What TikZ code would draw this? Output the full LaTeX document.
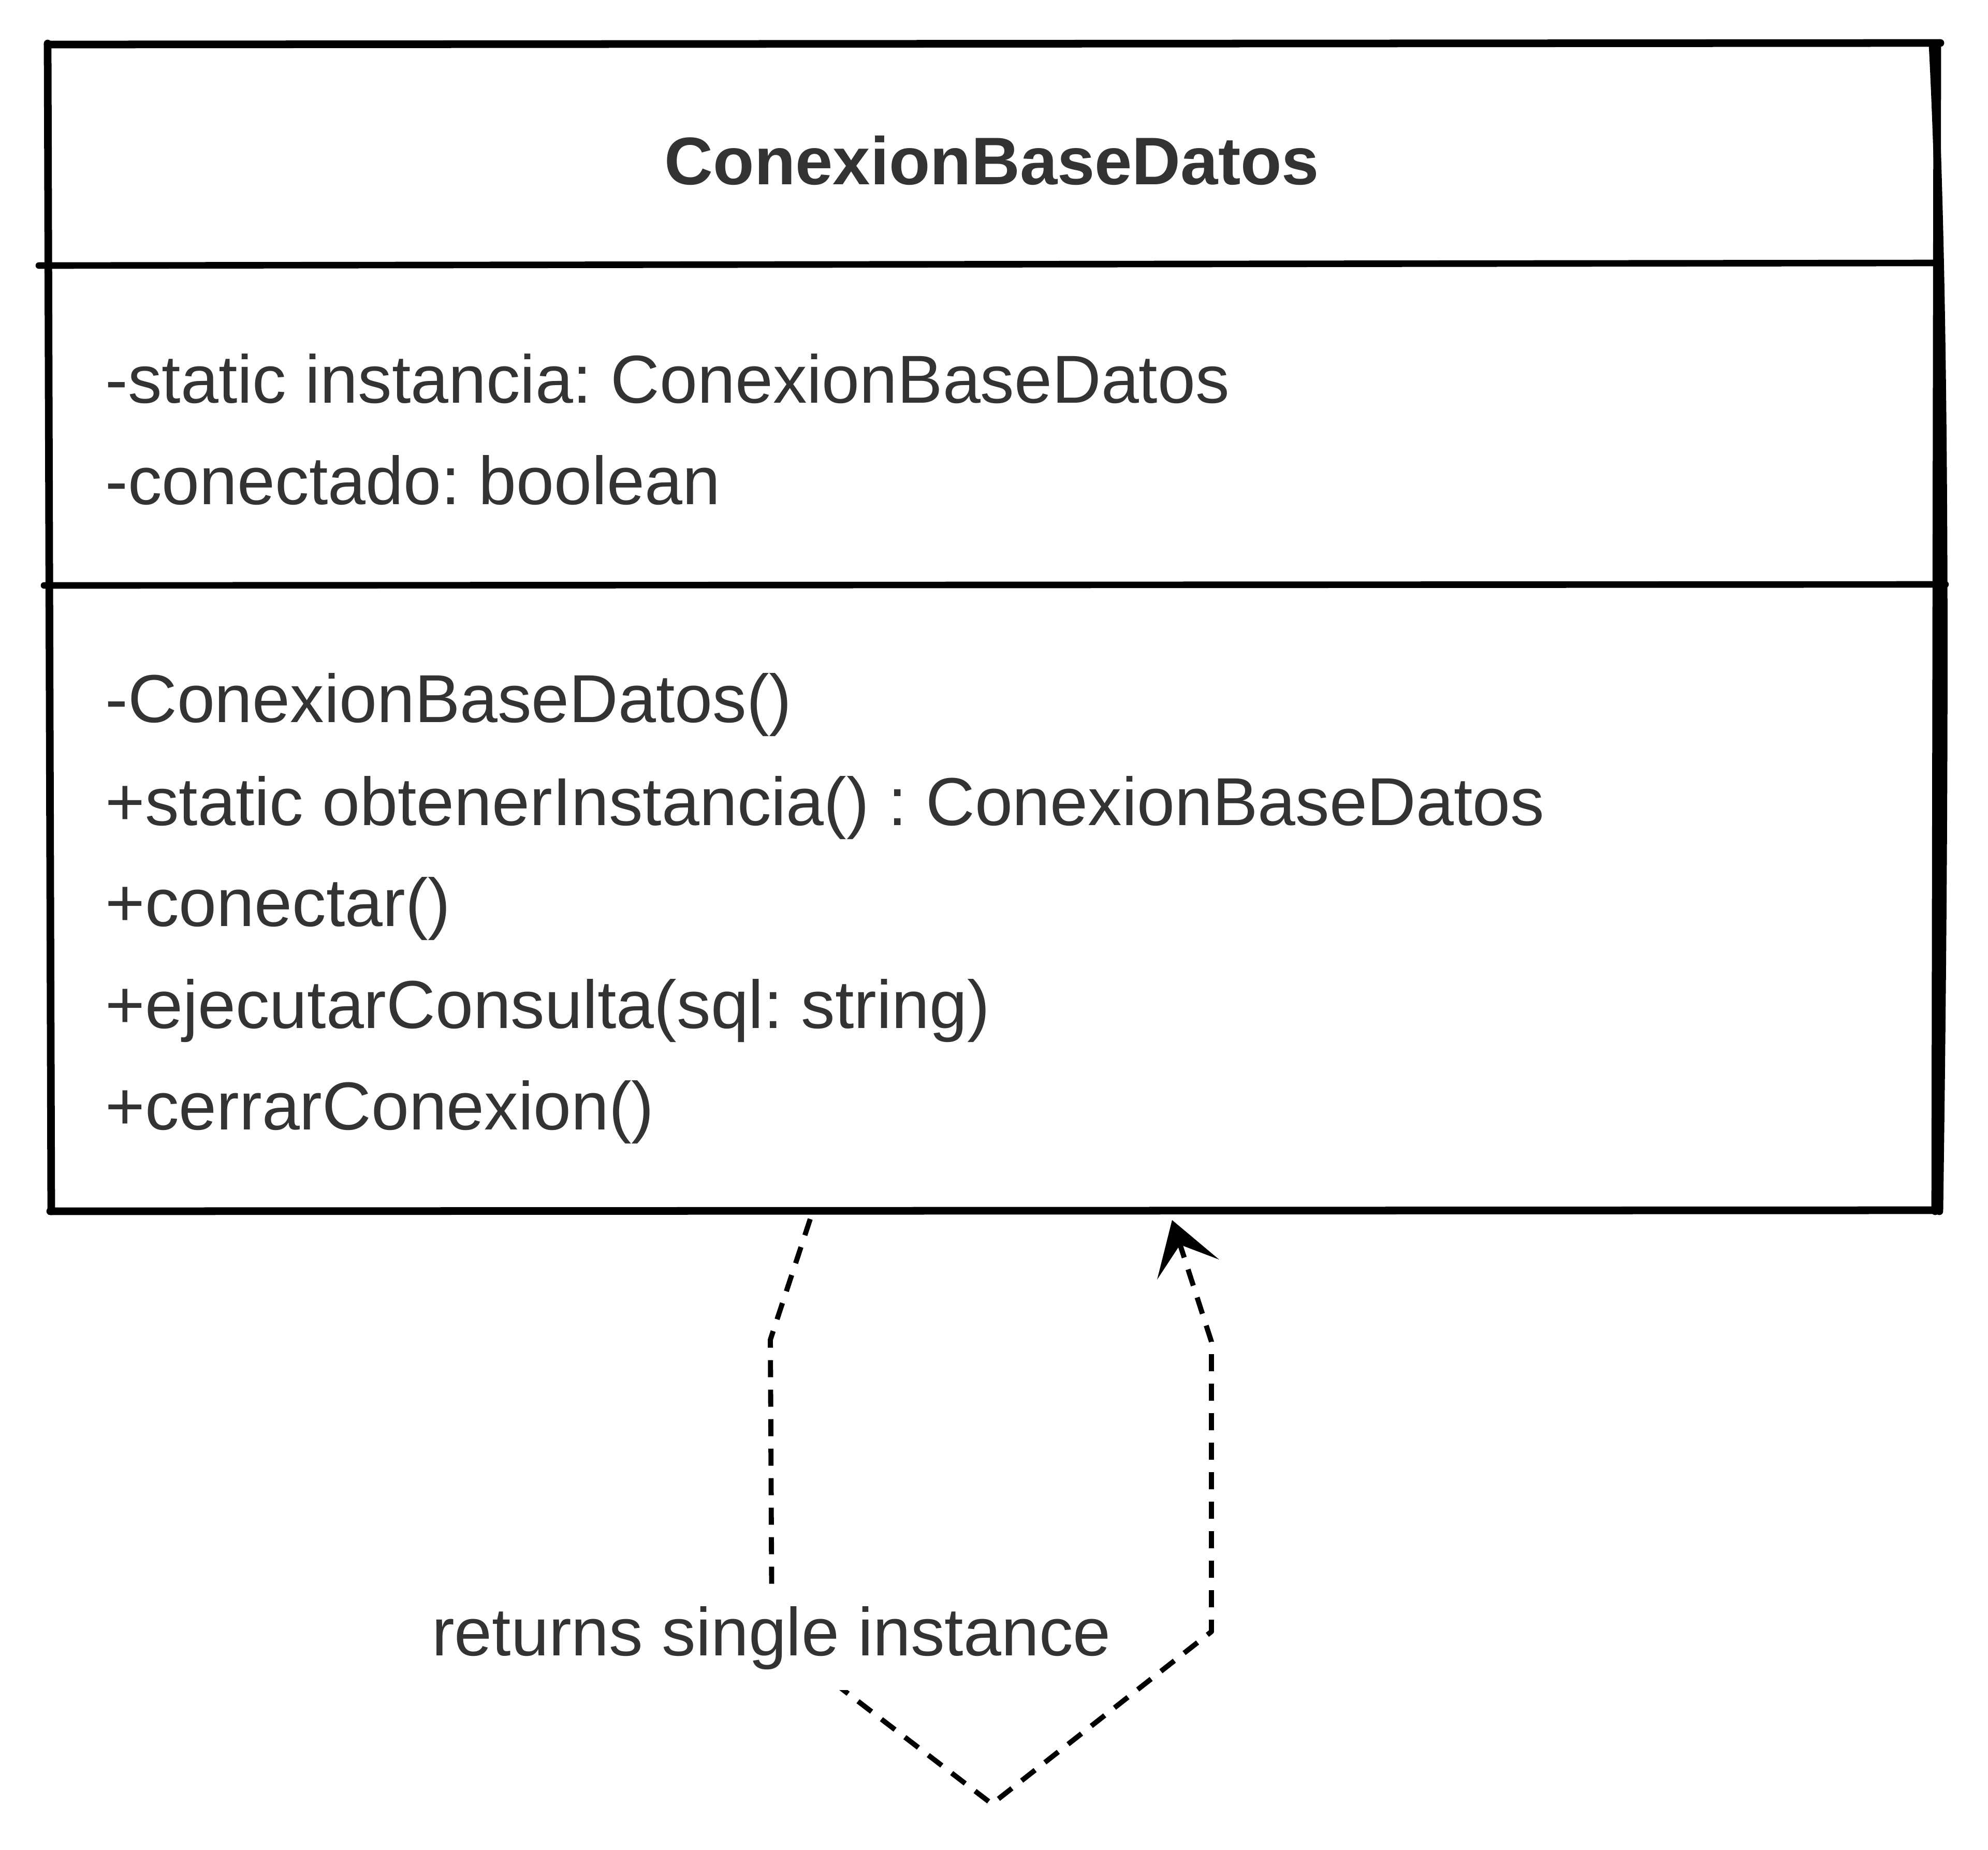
\documentclass[tikz,border=0pt]{standalone}
\usepackage{fontspec}
\setmainfont{Liberation Sans}
\usetikzlibrary{arrows.meta}
\definecolor{txtgray}{HTML}{333333}
\frenchspacing

\begin{document}
\begin{tikzpicture}
        \tikzstyle{every node}=[font=\fontsize{37.3}{44}\selectfont, text=txtgray, inner sep=0pt]
        \tikzstyle{member}=[anchor=base west]
        \tikzstyle{border}=[line width=4.2pt, line cap=round, line join=round]
        \tikzstyle{divider}=[line width=3.6pt, line cap=round]
        \tikzstyle{dep}=[line width=2.8pt, dash pattern=on 0.33cm off 0.24cm, line join=round]
        \useasboundingbox (0,0) rectangle (38.40,-35.73);

        % Draw the class box
        \draw[border] (0.92,-0.86) -- (37.48,-0.83);
        \draw[border] (37.42,-0.85) -- (37.38,-23.40);
        \draw[border] (37.33,-0.88) .. controls (37.60,-6) and (37.58,-15) .. (37.46,-23.40);
        \draw[border] (0.97,-23.40) -- (37.45,-23.38);
        \draw[border] (0.92,-0.84) -- (0.99,-23.40);
        \draw[divider] (0.75,-5.13) -- (37.40,-5.08);
        \draw[divider] (0.85,-11.31) -- (37.58,-11.29);

        \node[font=\fontsize{37}{44}\selectfont\bfseries, anchor=base] (title) at (19.16,-3.56) {ConexionBaseDatos};

        \node[member] (attr1) at (2.03,-7.78) {-static instancia: ConexionBaseDatos};
        \node[member] (attr2) at (2.03,-9.74) {-conectado: boolean};

        \node[member] (meth1) at (2.03,-13.95) {-ConexionBaseDatos()};
        \node[member] (meth2) at (2.03,-15.94) {+static obtenerInstancia() : ConexionBaseDatos};
        \node[member] (meth3) at (2.03,-17.89) {+conectar()};
        \node[member] (meth4) at (2.03,-19.86) {+ejecutarConsulta(sql: string)};
        \node[member] (meth5) at (2.03,-21.82) {+cerrarConexion()};

        % self dependency
        \coordinate (out) at (15.65,-23.55);
        \coordinate (in) at (22.64,-23.57);
        \draw[dep, -{Stealth[length=1.0cm, width=1.25cm, inset=0.5cm]}] (out) -- (14.88,-25.88) -- (14.91,-31.59) -- (19.16,-34.85) -- (23.40,-31.52) -- (23.40,-25.92) -- (in);

        \node[fill=white, inner xsep=0.3cm, inner ysep=0.4cm, anchor=base] (lbl) at (14.90,-31.98) {returns single instance};
\end{tikzpicture}
\end{document}
